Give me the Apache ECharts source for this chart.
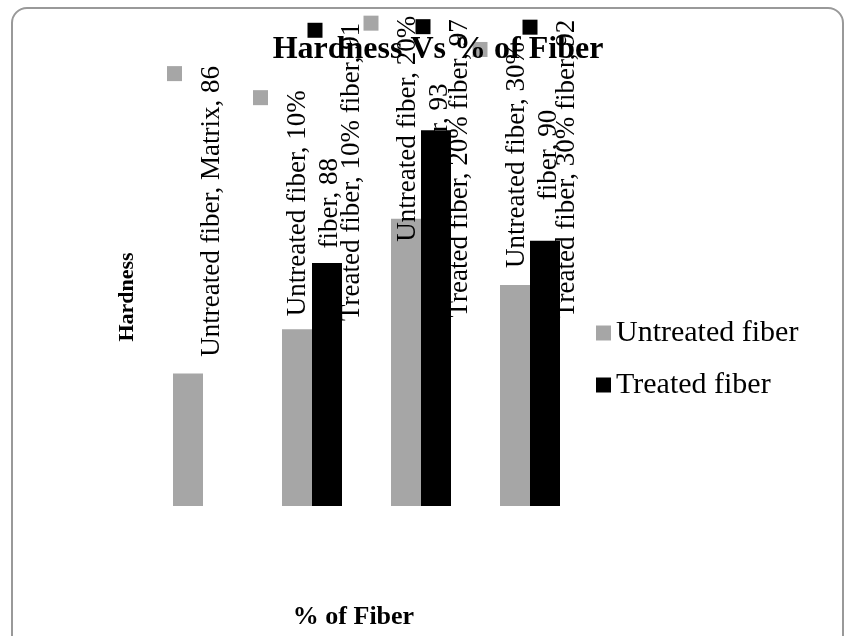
<!DOCTYPE html>
<html>
<head>
<meta charset="utf-8">
<script src="https://cdn.jsdelivr.net/npm/echarts@6/dist/echarts.min.js"></script>
<style>
  html, body { margin: 0; padding: 0; background: #fff; }
  #chart { width: 849px; height: 636px; }
</style>
</head>
<body>
<div id="chart"></div>
<script>
// Hardness measured for each fibre loading
const categories = ['Matrix', '10% fiber', '20% fiber', '30% fiber'];
const seriesNames = ['Untreated fiber', 'Treated fiber'];
const untreated = [86, 88, 93, 90];
const treated = [null, 91, 97, 92];
const valueRange = [80, 100];

// Label block placement: screen shift [dx, dy] from the bar's top centre
const untreatedLabelShift = [[2.5, -162], [-4.5, -126], [-3, -90], [-3, -130]];
const treatedLabelShift = [null, [4, -91], [3, 38], [1, -72]];

const FONT = 'Liberation Serif';
const colors = ['#a6a6a6', '#000000'];

function labelText(series, cat, v, wrap) {
  if (wrap) {
    const parts = cat.split(' ');
    return '{k| }\n' + series + ', ' + parts[0] + '\n' + parts.slice(1).join(' ') + ', ' + v;
  }
  return '{k| }\n' + series + ', ' + cat + ', ' + v;
}

function buildItems(values, shifts, seriesIdx) {
  return values.map((v, i) => {
    if (v == null) return '-';
    const s = shifts[i];
    const wrap = seriesIdx === 0 && i > 0;
    return {
      value: v,
      label: {
        show: true,
        position: 'top',
        distance: 0,
        rotate: 90,
        align: 'center',
        verticalAlign: 'middle',
        offset: [-s[1], s[0]],
        fontFamily: FONT,
        fontSize: 27,
        lineHeight: 32,
        color: '#000',
        formatter: labelText(seriesNames[seriesIdx], categories[i], v, wrap),
        rich: {
          k: { width: 15, height: 15, backgroundColor: colors[seriesIdx], align: 'right', lineHeight: 42 }
        }
      }
    };
  });
}

const chart = echarts.init(document.getElementById('chart'), null, { renderer: 'canvas' });

chart.setOption({
  animation: false,
  backgroundColor: '#ffffff',
  title: {
    text: 'Hardness Vs % of Fiber',
    left: 433,
    textAlign: 'center',
    top: 29,
    z: 10,
    textStyle: { fontFamily: FONT, fontWeight: 'bold', fontSize: 32, color: '#000' }
  },
  legend: {
    orient: 'vertical',
    left: 596,
    top: 318,
    padding: 0,
    icon: 'rect',
    itemWidth: 15,
    itemHeight: 15,
    itemGap: 22,
    data: seriesNames,
    textStyle: { fontFamily: FONT, fontSize: 30, color: '#000', lineHeight: 30 }
  },
  graphic: [{
    type: 'rect',
    shape: { x: 12, y: 8, width: 831, height: 660, r: 15 },
    style: { fill: 'none', stroke: '#999999', lineWidth: 2 },
    silent: true,
    z: 100
  }],
  grid: { left: 148.5, right: 264.5, top: 64, bottom: 130 },
  xAxis: {
    type: 'category',
    data: categories,
    name: '% of Fiber',
    nameLocation: 'middle',
    nameGap: 98,
    nameTextStyle: { fontFamily: FONT, fontWeight: 'bold', fontSize: 26, color: '#000', padding: [0, 26, 0, 0] },
    axisLine: { show: false },
    axisTick: { show: false },
    axisLabel: { show: false },
    splitLine: { show: false }
  },
  yAxis: {
    type: 'value',
    min: valueRange[0],
    max: valueRange[1],
    name: 'Hardness',
    nameLocation: 'middle',
    nameRotate: 90,
    nameGap: 10,
    nameTextStyle: { fontFamily: FONT, fontWeight: 'bold', fontSize: 22, color: '#000', padding: [0, 24, 0, 0] },
    axisLine: { show: false },
    axisTick: { show: false },
    axisLabel: { show: false },
    splitLine: { show: false }
  },
  series: [
    {
      name: seriesNames[0],
      type: 'bar',
      barWidth: 30,
      barGap: '0%',
      itemStyle: { color: colors[0] },
      data: buildItems(untreated, untreatedLabelShift, 0)
    },
    {
      name: seriesNames[1],
      type: 'bar',
      barWidth: 30,
      barGap: '0%',
      itemStyle: { color: colors[1] },
      z: 3,
      data: buildItems(treated, treatedLabelShift, 1)
    }
  ]
});
</script>
</body>
</html>
